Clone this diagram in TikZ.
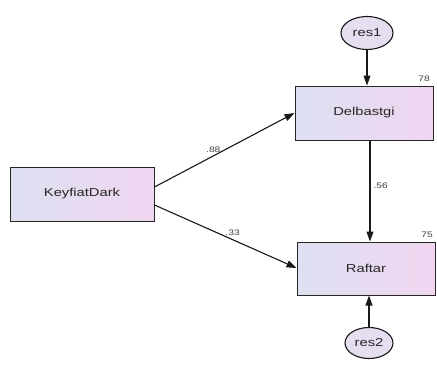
\documentclass[tikz,border=0pt]{standalone}
\usepackage{fontspec}
\setmainfont{Liberation Sans}
\usepackage{graphicx}
\usetikzlibrary{shapes.geometric,arrows.meta}
\newcommand{\wtxt}[2]{\scalebox{1.28}[1]{\fontsize{#1}{#1}\selectfont #2}}
\tikzset{
  varbox/.style={draw=black!85, line width=1pt, rectangle, inner sep=0pt, text=black!85,
    left color={rgb,255:red,222;green,224;blue,242}, right color={rgb,255:red,240;green,214;blue,240}},
  resell/.style={draw=black!90, line width=1.1pt, ellipse, inner sep=0pt, text=black!85,
    fill={rgb,255:red,228;green,222;blue,240}},
  path arrow/.style={draw=black!90, line width=1.1pt, -{Triangle[length=10pt,width=7pt]}},
  coef/.style={inner sep=0pt, text=black!75}
}
\begin{document}
\begin{tikzpicture}[x=1pt,y=-1pt]
\useasboundingbox (0,0) rectangle (437,367);
\node[varbox, minimum width=144pt, minimum height=54pt] (kd) at (82,194) {\wtxt{11.5}{KeyfiatDark}};
\node[varbox, minimum width=138pt, minimum height=54pt] (del) at (364,113) {\wtxt{11.5}{Delbastgi}};
\node[varbox, minimum width=138pt, minimum height=53pt] (raf) at (366,268.5) {\wtxt{11.5}{Raftar}};
\node[resell, minimum width=52pt, minimum height=33pt] (r1) at (367,33) {\wtxt{11.5}{res1}};
\node[resell, minimum width=48pt, minimum height=31pt] (r2) at (369,343) {\wtxt{11.5}{res2}};
\draw[path arrow] (kd.east |- 0,187) -- (del.west |- 0,113) node[coef, pos=0.42, above=3pt] (l88) {\wtxt{8}{.88}};
\draw[path arrow] (kd.east |- 0,205) -- (raf.west |- 0,268) node[coef, pos=0.55, above=4pt] (l33) {\wtxt{8}{.33}};
\draw[path arrow] (del.south -| 370,0) -- (raf.north -| 370,0) node[coef, pos=0.45, right=3pt] (l56) {\wtxt{8}{.56}};
\draw[path arrow] (r1) -- (del.north -| r1.south);
\draw[path arrow] (r2) -- (raf.south -| r2.north);
\node[coef] (l78) at (424,79) {\wtxt{8}{78}};
\node[coef] (l75) at (427,235) {\wtxt{8}{75}};
\end{tikzpicture}
\end{document}
